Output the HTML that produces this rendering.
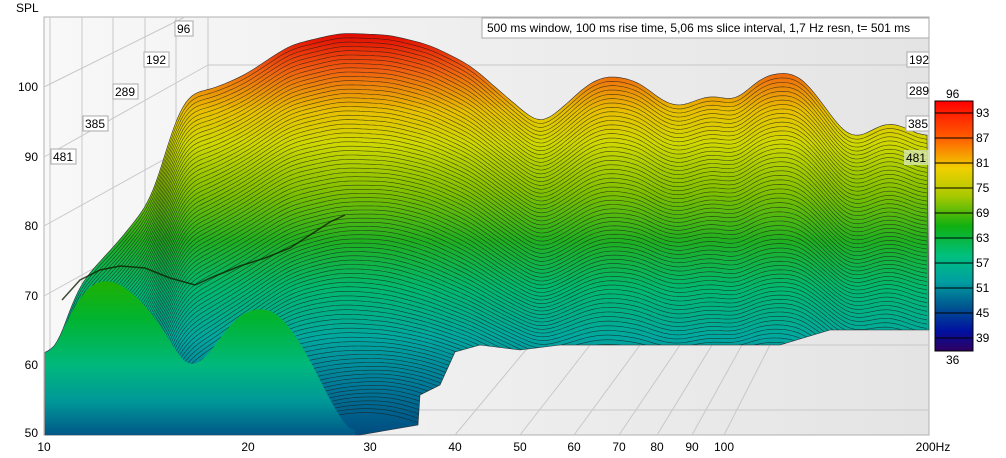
<!DOCTYPE html>
<html><head><meta charset="utf-8"><style>
html,body{margin:0;padding:0;width:1006px;height:458px;overflow:hidden;background:#fff;font-family:"Liberation Sans",sans-serif;}
svg{display:block;overflow:hidden}
text{font-family:"Liberation Sans",sans-serif;font-size:12px;fill:#000}
</style></head><body>
<svg id="s" width="1006" height="458" viewBox="0 0 1006 458" xmlns="http://www.w3.org/2000/svg">
<defs>
<linearGradient id="bg" x1="0" x2="1" y1="0" y2="0">
<stop offset="0" stop-color="#f8f8f8"/><stop offset="1" stop-color="#e4e4e4"/></linearGradient>
<linearGradient id="sf" gradientUnits="userSpaceOnUse" x1="0" y1="30" x2="0" y2="435">
<stop offset="0" stop-color="#e00000"/>
<stop offset="0.1" stop-color="#f06010"/>
<stop offset="0.2" stop-color="#e8c000"/>
<stop offset="0.28" stop-color="#d0d800"/>
<stop offset="0.4" stop-color="#80c000"/>
<stop offset="0.52" stop-color="#20b020"/>
<stop offset="0.64" stop-color="#00b870"/>
<stop offset="0.76" stop-color="#00a8a0"/>
<stop offset="0.88" stop-color="#007898"/>
<stop offset="1" stop-color="#004c80"/>
</linearGradient>
<linearGradient id="fg" gradientUnits="userSpaceOnUse" x1="0" y1="280" x2="0" y2="435">
<stop offset="0" stop-color="#20b000"/>
<stop offset="0.25" stop-color="#00b430"/>
<stop offset="0.55" stop-color="#00b87c"/>
<stop offset="0.78" stop-color="#009898"/>
<stop offset="1" stop-color="#005888"/>
</linearGradient>
<linearGradient id="cb" x1="0" y1="0" x2="0" y2="1">
<stop offset="0" stop-color="#ff0000"/><stop offset="0.15" stop-color="#ff6000"/>
<stop offset="0.27" stop-color="#f0d000"/><stop offset="0.38" stop-color="#a8c800"/>
<stop offset="0.5" stop-color="#10b010"/><stop offset="0.62" stop-color="#00c080"/>
<stop offset="0.72" stop-color="#00a0a0"/><stop offset="0.82" stop-color="#005890"/>
<stop offset="0.92" stop-color="#0010a0"/><stop offset="1" stop-color="#300060"/>
</linearGradient>
<clipPath id="clp"><path id="cpath"/></clipPath>
</defs>
<text x="16" y="12">SPL</text>
<rect x="44" y="17" width="885" height="418" fill="url(#bg)" stroke="#b0b0b0"/>
<g stroke="#c8c8c8" fill="none">
<line x1="50" y1="17" x2="50" y2="435"/><line x1="82" y1="17" x2="82" y2="435"/>
<line x1="113" y1="17" x2="113" y2="435"/><line x1="145" y1="17" x2="145" y2="435"/>
<line x1="176" y1="17" x2="176" y2="435"/><line x1="208" y1="17" x2="208" y2="435"/>
<line x1="208" y1="65" x2="929" y2="65"/><line x1="208" y1="135" x2="929" y2="135"/>
<line x1="208" y1="205" x2="929" y2="205"/><line x1="208" y1="275" x2="929" y2="275"/>
<line x1="208" y1="345" x2="929" y2="345"/><line x1="208" y1="410" x2="929" y2="410"/>
<line x1="44" y1="87" x2="185" y2="17"/><line x1="44" y1="157" x2="208" y2="65"/>
<line x1="44" y1="226" x2="208" y2="135"/><line x1="44" y1="296" x2="208" y2="205"/>
<line x1="44" y1="365" x2="208" y2="275"/>
<line x1="455" y1="435" x2="530" y2="345"/><line x1="520" y1="435" x2="590" y2="345"/>
<line x1="574" y1="435" x2="640" y2="345"/><line x1="619" y1="435" x2="680" y2="345"/>
<line x1="657" y1="435" x2="712" y2="345"/><line x1="692" y1="435" x2="742" y2="345"/>
<line x1="724" y1="435" x2="770" y2="345"/>
</g>
<path id="surf" fill="url(#sf)" stroke="#303030" stroke-width="0.6"/>
<g id="lines" clip-path="url(#clp)" fill="none" stroke="#1a1a1a" stroke-width="0.6" opacity="0.75"></g>
<path id="ridge" fill="none" stroke="#102000" stroke-width="1.5" opacity="0.8"/>
<path id="front" fill="url(#fg)" stroke="none"/>
<g font-size="11">
<rect x="175" y="21" width="18" height="15" fill="#fff" stroke="#aaa"/><text x="177" y="33">96</text>
<rect x="144" y="52" width="25" height="15" fill="#fff" stroke="#aaa"/><text x="146" y="64">192</text>
<rect x="113" y="84" width="25" height="15" fill="#fff" stroke="#aaa"/><text x="115" y="96">289</text>
<rect x="83" y="116" width="25" height="15" fill="#fff" stroke="#aaa"/><text x="85" y="128">385</text>
<rect x="51" y="149" width="25" height="15" fill="#fff" stroke="#aaa"/><text x="53" y="161">481</text>
<rect x="907" y="52" width="22" height="15" fill="#fff" stroke="#aaa"/><text x="909" y="64">192</text>
<rect x="907" y="83" width="22" height="15" fill="#fff" stroke="#aaa"/><text x="909" y="95">289</text>
<rect x="906" y="116" width="23" height="15" fill="#fff" stroke="#aaa"/><text x="908" y="128">385</text>
<rect x="904" y="150" width="25" height="15" fill="#d8e8b0" opacity="0.8"/><text x="906" y="162">481</text>
</g>
<rect x="482" y="18" width="447" height="20" fill="#fff" stroke="#aaa"/>
<text x="487" y="32">500 ms window, 100 ms rise time, 5,06 ms slice interval, 1,7 Hz resn, t= 501 ms</text>
<g text-anchor="end">
<text x="38" y="91">100</text><text x="38" y="161">90</text><text x="38" y="230">80</text>
<text x="38" y="300">70</text><text x="38" y="369">60</text><text x="38" y="437">50</text>
</g>
<g text-anchor="middle">
<text x="44" y="451">10</text><text x="248" y="451">20</text><text x="370" y="451">30</text>
<text x="455" y="451">40</text><text x="520" y="451">50</text><text x="574" y="451">60</text>
<text x="619" y="451">70</text><text x="657" y="451">80</text><text x="692" y="451">90</text>
<text x="724" y="451">100</text><text x="933" y="451">200Hz</text>
</g>
<rect x="935" y="101" width="38" height="250" fill="url(#cb)" stroke="#000"/>
<g stroke="#000"><line x1="935" y1="113" x2="973" y2="113"/><line x1="935" y1="138" x2="973" y2="138"/>
<line x1="935" y1="163" x2="973" y2="163"/><line x1="935" y1="188" x2="973" y2="188"/>
<line x1="935" y1="213" x2="973" y2="213"/><line x1="935" y1="238" x2="973" y2="238"/>
<line x1="935" y1="263" x2="973" y2="263"/><line x1="935" y1="288" x2="973" y2="288"/>
<line x1="935" y1="313" x2="973" y2="313"/><line x1="935" y1="338" x2="973" y2="338"/></g>
<g font-size="12"><text x="946" y="98">96</text><text x="946" y="364">36</text>
<text x="976" y="117">93</text><text x="976" y="142">87</text><text x="976" y="167">81</text>
<text x="976" y="192">75</text><text x="976" y="217">69</text><text x="976" y="242">63</text>
<text x="976" y="267">57</text><text x="976" y="292">51</text><text x="976" y="317">45</text>
<text x="976" y="342">39</text></g>
</svg>
<script>
(function(){
var tp=[[45,355],[60,350],[70,300],[90,272],[120,240],[155,195],[165,150],[185,95],[215,88],[245,75],[290,45],[340,33],[390,35],[430,45],[470,65],[510,100],[540,125],[560,110],[590,82],[610,75],[640,82],[660,100],[680,108],[700,98],[715,95],[735,102],[760,78],[780,72],[800,75],[820,100],[845,135],[860,138],[885,122],[900,125],[920,135],[929,140]];
function mk(arr){return function(x){for(var i=1;i<arr.length;i++){if(x<=arr[i][0]){var a=arr[i-1],b=arr[i];var t=(x-a[0])/(b[0]-a[0]);return a[1]+(b[1]-a[1])*t;}}return arr[arr.length-1][1];};}
function smooth(arr,w){return arr.map(function(v,i){var s=0,n=0;for(var j=i-w;j<=i+w;j++){if(j>=0&&j<arr.length){s+=arr[j];n++;}}return s/n;});}
function P(a){return a.map(function(p,i){return (i?'L':'M')+(+p[0]).toFixed(1)+','+(+p[1]).toFixed(1);}).join(' ');}
var interp=mk(tp);
var xs=[],ys=[];for(var x=45;x<=929;x+=3){xs.push(x);ys.push(interp(x));}
var sy=smooth(smooth(ys,3),3);
var wide=smooth(smooth(ys,25),25);
var bt=[[929,330],[880,330],[830,330],[780,345],[730,345],[680,345],[620,345],[560,345],[520,350],[480,345],[455,352],[440,385],[420,395],[418,425],[360,435],[45,435]];
var topPts=xs.map(function(x,i){return [x,sy[i]];});
var d=P(topPts)+' '+P(bt).replace('M','L')+' Z';
document.getElementById('surf').setAttribute('d',d);
document.getElementById('cpath').setAttribute('d',d);
var g=document.getElementById('lines'),h='';
for(var k=1;k<90;k++){var f=k/90;var a=Math.min(0.75,f*0.9);
 var pts=xs.map(function(x,i){var y=sy[i]*(1-a)+wide[i]*a+k*4.2+Math.sin(x/37+k*0.15)*3*f;return [x,y];});
 h+='<path d="'+P(pts)+'"/>';}
g.innerHTML=h;
// front slice fill
var fr=[[45,355],[55,350],[65,325],[78,300],[92,284],[105,280],[120,284],[138,298],[155,318],[170,340],[182,362],[195,366],[208,355],[222,335],[240,315],[258,308],[275,312],[292,330],[310,360],[330,400],[345,425],[355,435]];
var fi=mk(fr);var fp=[];for(var x2=45;x2<=355;x2+=2){fp.push([x2,fi(x2)]);}
var fy=smooth(smooth(fp.map(function(p){return p[1];}),3),3);
fp=fp.map(function(p,i){return [p[0],fy[i]];});
document.getElementById('front').setAttribute('d',P(fp)+' L355,435 L45,435 Z');
var rg=[[62,300],[80,280],[100,270],[120,266],[145,268],[170,278],[195,285],[215,276],[240,266],[265,258],[290,248],[310,235],[330,222],[345,215]];
document.getElementById('ridge').setAttribute('d',P(rg));
})();
</script>
</body></html>
